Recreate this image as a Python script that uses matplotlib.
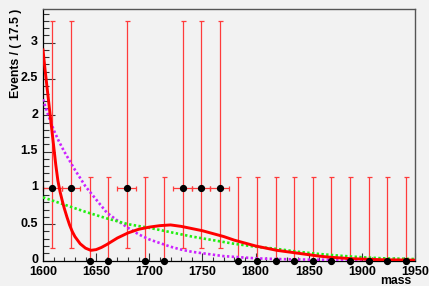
import numpy as np
import matplotlib
matplotlib.use("Agg")
import matplotlib.pyplot as plt
import matplotlib.transforms as mtrans
from matplotlib.ticker import MultipleLocator

# ---- data ----
bin_centers = [1608.75, 1626.25, 1643.75, 1661.25, 1678.75, 1696.25, 1713.75,
               1731.25, 1748.75, 1766.25, 1783.75, 1801.25, 1818.75, 1836.25,
               1853.75, 1871.25, 1888.75, 1906.25, 1923.75, 1941.25]
counts = [1, 1, 0, 0, 1, 0, 0, 1, 1, 1, 0, 0, 0, 0, 0, 0, 0, 0, 0, 0]
bin_half_width = 8.75
err_low = [0.827 if c == 1 else 0.0 for c in counts]
err_high = [2.300 if c == 1 else 1.148 for c in counts]

red_x = [1600, 1602, 1604, 1606, 1608, 1610, 1612, 1614, 1616, 1618, 1620, 1622.5,
         1625, 1627.5, 1630, 1635, 1640, 1645, 1650, 1655, 1660, 1670, 1680, 1690,
         1700, 1710, 1720, 1730, 1740, 1750, 1760, 1770, 1780, 1790, 1800, 1810,
         1820, 1830, 1840, 1850, 1860, 1870, 1880, 1890, 1900, 1920, 1950]
red_y = [2.90, 2.62, 2.36, 2.10, 1.84, 1.58, 1.32, 1.10, 0.95, 0.83, 0.72, 0.60,
         0.49, 0.40, 0.33, 0.23, 0.17, 0.14, 0.15, 0.18, 0.22, 0.31, 0.38, 0.43,
         0.46, 0.48, 0.49, 0.47, 0.44, 0.41, 0.37, 0.33, 0.28, 0.24, 0.20, 0.17,
         0.14, 0.12, 0.10, 0.08, 0.06, 0.045, 0.035, 0.025, 0.02, 0.01, 0.005]

green_x = [1600, 1620, 1640, 1660, 1680, 1700, 1720, 1740, 1760, 1780, 1800, 1820,
           1840, 1860, 1880, 1900, 1920, 1950]
green_y = [0.87, 0.77, 0.67, 0.58, 0.50, 0.45, 0.39, 0.33, 0.28, 0.23, 0.19, 0.16,
           0.12, 0.09, 0.065, 0.045, 0.03, 0.02]

mag_x = [1600, 1605, 1610, 1615, 1620, 1630, 1640, 1650, 1660, 1670, 1680, 1690,
         1700, 1710, 1720, 1730, 1740, 1750, 1760, 1770, 1780, 1790, 1800, 1820,
         1850, 1900, 1950]
mag_y = [2.22, 2.00, 1.80, 1.64, 1.50, 1.25, 1.02, 0.84, 0.66, 0.55, 0.45, 0.36,
         0.29, 0.24, 0.19, 0.15, 0.12, 0.10, 0.08, 0.06, 0.05, 0.04, 0.03, 0.02,
         0.012, 0.006, 0.003]

x_min, x_max = 1600, 1950
y_max = 3.464

bg = "#f2f2f2"
fig = plt.figure(figsize=(4.29, 2.86), dpi=100, facecolor=bg)
ax = fig.add_axes([43/429, 1-260.5/286, (415-43)/429, (260.5-9)/286], facecolor=bg)

# error bars
cnt = np.array(counts, dtype=float)
xe = np.array([bin_half_width if c > 0 else 0 for c in counts])
ax.errorbar(bin_centers, cnt, yerr=[err_low, err_high], xerr=xe, fmt="none",
            ecolor="#ff3b3b", elinewidth=0.9, capsize=1.8, capthick=0.9,
            zorder=2, clip_on=False)

ax.plot(mag_x, mag_y, color="#cc22ff", lw=1.9, ls=(0, (0.9, 0.9)), zorder=3,
        dash_capstyle="butt")
ax.plot(green_x, green_y, color="#22ee11", lw=1.9, ls=(0, (0.9, 0.9)), zorder=3,
        dash_capstyle="butt")
ax.plot(red_x, red_y, color="#ff0000", lw=2.1, zorder=4)

ax.plot(bin_centers, cnt, "o", color="black", ms=4.2, zorder=5, clip_on=False)

ax.set_xlim(x_min, x_max)
ax.set_ylim(0, y_max)

ax.xaxis.set_major_locator(MultipleLocator(50))
ax.xaxis.set_minor_locator(MultipleLocator(10))
ax.yaxis.set_major_locator(MultipleLocator(0.5))
ax.yaxis.set_minor_locator(MultipleLocator(0.1))
ax.yaxis.set_major_formatter(matplotlib.ticker.FuncFormatter(
    lambda v, p: ("%g" % v)))

ax.tick_params(axis="both", which="both", direction="in", top=False, right=False,
               color="#333333", width=0.8)
ax.tick_params(axis="y", which="major", length=8.5, pad=3.5)
ax.tick_params(axis="y", which="minor", length=4.3)
ax.tick_params(axis="x", which="major", length=5.5, pad=4.0)
ax.tick_params(axis="x", which="minor", length=2.8)

shift_up = mtrans.ScaledTranslation(0, 2.0/100, fig.dpi_scale_trans)
for lab in ax.get_xticklabels() + ax.get_yticklabels():
    lab.set_fontfamily("Liberation Sans")
    lab.set_fontweight("bold")
    lab.set_fontsize(9.0)
for lab in ax.get_yticklabels():
    lab.set_transform(lab.get_transform() + shift_up)

for side in ["left", "bottom"]:
    ax.spines[side].set_color("black")
    ax.spines[side].set_linewidth(0.9)
for side in ["top", "right"]:
    ax.spines[side].set_color("#555555")
    ax.spines[side].set_linewidth(1.0)

fig.text(16/429, 1-9/286, "Events / ( 17.5 )", rotation=90, ha="center", va="top",
         fontfamily="Liberation Sans", fontweight="bold", fontsize=8.8)
fig.text(411/429, 1-281.5/286, "mass", ha="right", va="center",
         fontfamily="Liberation Sans", fontweight="bold", fontsize=8.8)

fig.savefig("out.png", dpi=100, facecolor=bg)
